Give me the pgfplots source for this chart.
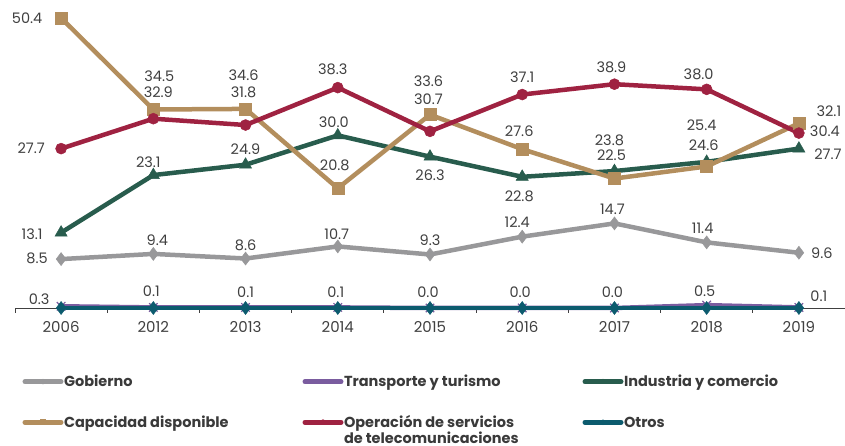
\documentclass[border=0pt]{standalone}
\usepackage{pgfplots}
\pgfplotsset{compat=1.18}
\usepackage{fontspec}
\setmainfont{Poppins}
\definecolor{cgob}{HTML}{98989A}
\definecolor{ctra}{HTML}{7A5C9F}
\definecolor{cind}{HTML}{285C4D}
\definecolor{ccap}{HTML}{B38E5D}
\definecolor{cope}{HTML}{9F2241}
\definecolor{cotr}{HTML}{0C5B6E}
\definecolor{labc}{HTML}{404040}
\definecolor{legc}{HTML}{3A3A3A}
\definecolor{axc}{HTML}{404040}
\newcommand{\lab}[5]{\node[lab,xshift=#3pt,yshift=#4pt] at (axis cs:#1,#2) {#5};}
\newcommand{\LE}[1]{\makebox[228pt][l]{#1}}
\begin{document}
\begin{tikzpicture}[lab/.style={font=\fontsize{14.5}{16}\selectfont, text=labc, inner sep=0pt}]
\path[use as bounding box] (-15pt,-138pt) rectangle (830pt,308pt);
\begin{axis}[
  scale only axis, width=830pt, height=308pt,
  at={(0pt,0pt)}, anchor=south west,
  xmin=-0.5, xmax=8.5, ymin=0, ymax=53.53,
  axis y line=none, axis x line*=bottom,
  x axis line style={draw=axc, line width=0.9pt, -},
  xtick={0,1,2,3,4,5,6,7,8},
  xticklabels={2006,2012,2013,2014,2015,2016,2017,2018,2019},
  major tick length=0pt,
  minor xtick={-0.5,0.5,1.5,2.5,3.5,4.5,5.5,6.5,7.5,8.5},
  minor tick length=5pt, tick align=outside,
  minor tick style={draw=axc, line width=0.9pt},
  xticklabel style={font=\fontsize{15}{17}\selectfont, text=labc, yshift=-10pt},
  clip=false,
  legend columns=3,
  legend cell align=left,
  legend image code/.code={\draw[#1, line width=5pt, line cap=round, mark size=2.5pt, mark repeat=2, mark phase=2] plot coordinates {(0pt,5pt) (18pt,5pt) (36pt,5pt)};},
  legend style={at={(axis description cs:0,0)}, anchor=north west, xshift=7.5pt, yshift=-65pt,
    draw=none, fill=none, inner sep=0pt, outer sep=0pt, row sep=23pt,
    font=\bfseries\fontsize{14.5}{17.5}\selectfont, text=legc,
    cells={anchor=base west, inner sep=0pt},
    /tikz/every odd column/.append style={column sep=-1.5pt},
    /tikz/every even column/.append style={column sep=8.5pt}},
]
\addplot[color=cgob, line width=4.5pt, mark=diamond*, mark size=6.5pt, mark options={line width=0.5pt}]
 coordinates {(0,8.5) (1,9.4) (2,8.6) (3,10.7) (4,9.3) (5,12.4) (6,14.7) (7,11.4) (8,9.6)};
\addlegendentry{\LE{Gobierno}}
\addplot[color=ctra, line width=4.5pt, mark=x, mark size=6pt, mark options={line width=1.2pt}]
 coordinates {(0,0.3) (1,0.1) (2,0.1) (3,0.1) (4,0.0) (5,0.0) (6,0.0) (7,0.5) (8,0.1)};
\addlegendentry{\LE{Transporte y turismo}}
\addplot[color=cind, line width=4.5pt, mark=triangle*, mark size=7pt, mark options={line width=0.5pt}]
 coordinates {(0,13.1) (1,23.1) (2,24.9) (3,30.0) (4,26.3) (5,22.8) (6,23.8) (7,25.4) (8,27.7)};
\addlegendentry{\LE{Industria y comercio}}
\addplot[color=ccap, line width=4.5pt, mark=square*, mark size=6pt, mark options={line width=0.5pt}]
 coordinates {(0,50.4) (1,34.5) (2,34.6) (3,20.8) (4,33.6) (5,27.6) (6,22.5) (7,24.6) (8,32.1)};
\addlegendentry{\LE{Capacidad disponible}}
\addplot[color=cope, line width=4.5pt, mark=*, mark size=5.5pt, mark options={line width=0.5pt}]
 coordinates {(0,27.7) (1,32.9) (2,31.8) (3,38.3) (4,30.7) (5,37.1) (6,38.9) (7,38.0) (8,30.4)};
\addlegendentry{\LE{\vtop{\baselineskip=16pt\hbox{Operación de servicios}\hbox{de telecomunicaciones}}}}
\addplot[color=cotr, line width=4.5pt, mark=diamond*, mark size=6.5pt, mark options={line width=0.5pt}]
 coordinates {(0,0) (1,0) (2,0) (3,0) (4,0) (5,0) (6,0) (7,0) (8,0)};
\addlegendentry{\LE{Otros}}
% Gobierno labels
\lab{0}{8.5}{-24}{1}{8.5}
\lab{1}{9.4}{4}{14}{9.4}
\lab{2}{8.6}{0}{13.5}{8.6}
\lab{3}{10.7}{-1}{12.5}{10.7}
\lab{4}{9.3}{0}{14.5}{9.3}
\lab{5}{12.4}{-5}{14}{12.4}
\lab{6}{14.7}{-2}{14}{14.7}
\lab{7}{11.4}{-4}{14}{11.4}
\lab{8}{9.6}{23}{0}{9.6}
% Industria labels
\lab{0}{13.1}{-29}{-1.5}{13.1}
\lab{1}{23.1}{-5}{12.5}{23.1}
\lab{2}{24.9}{0}{15.5}{24.9}
\lab{3}{30.0}{-4}{13}{30.0}
\lab{4}{26.3}{0}{-19}{26.3}
\lab{5}{22.8}{-3}{-19}{22.8}
\lab{6}{23.8}{-5}{31}{23.8}
\lab{7}{25.4}{-5}{37}{25.4}
\lab{8}{27.7}{29}{-6}{27.7}
% Capacidad labels
\lab{0}{50.4}{-34}{0}{50.4}
\lab{1}{34.5}{6}{33.5}{34.5}
\lab{2}{34.6}{-2}{34}{34.6}
\lab{3}{20.8}{-3}{23}{20.8}
\lab{4}{33.6}{-1.5}{33}{33.6}
\lab{5}{27.6}{-3}{18}{27.6}
\lab{6}{22.5}{-3}{23}{22.5}
\lab{7}{24.6}{-3}{21}{24.6}
\lab{8}{32.1}{30}{12.5}{32.1}
% Operacion labels
\lab{0}{27.7}{-30}{0}{27.7}
\lab{1}{32.9}{5}{26}{32.9}
\lab{2}{31.8}{-2}{33}{31.8}
\lab{3}{38.3}{-5}{18.5}{38.3}
\lab{4}{30.7}{-1.5}{32}{30.7}
\lab{5}{37.1}{0}{17}{37.1}
\lab{6}{38.9}{-3}{17}{38.9}
\lab{7}{38.0}{-8}{15}{38.0}
\lab{8}{30.4}{26}{2}{30.4}
% Transporte labels
\lab{0}{0.3}{-22}{7}{0.3}
\lab{1}{0.1}{-2}{16}{0.1}
\lab{2}{0.1}{0}{15}{0.1}
\lab{3}{0.1}{-2}{15}{0.1}
\lab{4}{0.0}{-2}{16}{0.0}
\lab{5}{0.0}{-2}{16}{0.0}
\lab{6}{0.0}{-2}{16}{0.0}
\lab{7}{0.5}{-2}{14}{0.5}
\lab{8}{0.1}{20}{11}{0.1}
\end{axis}
\end{tikzpicture}
\end{document}
